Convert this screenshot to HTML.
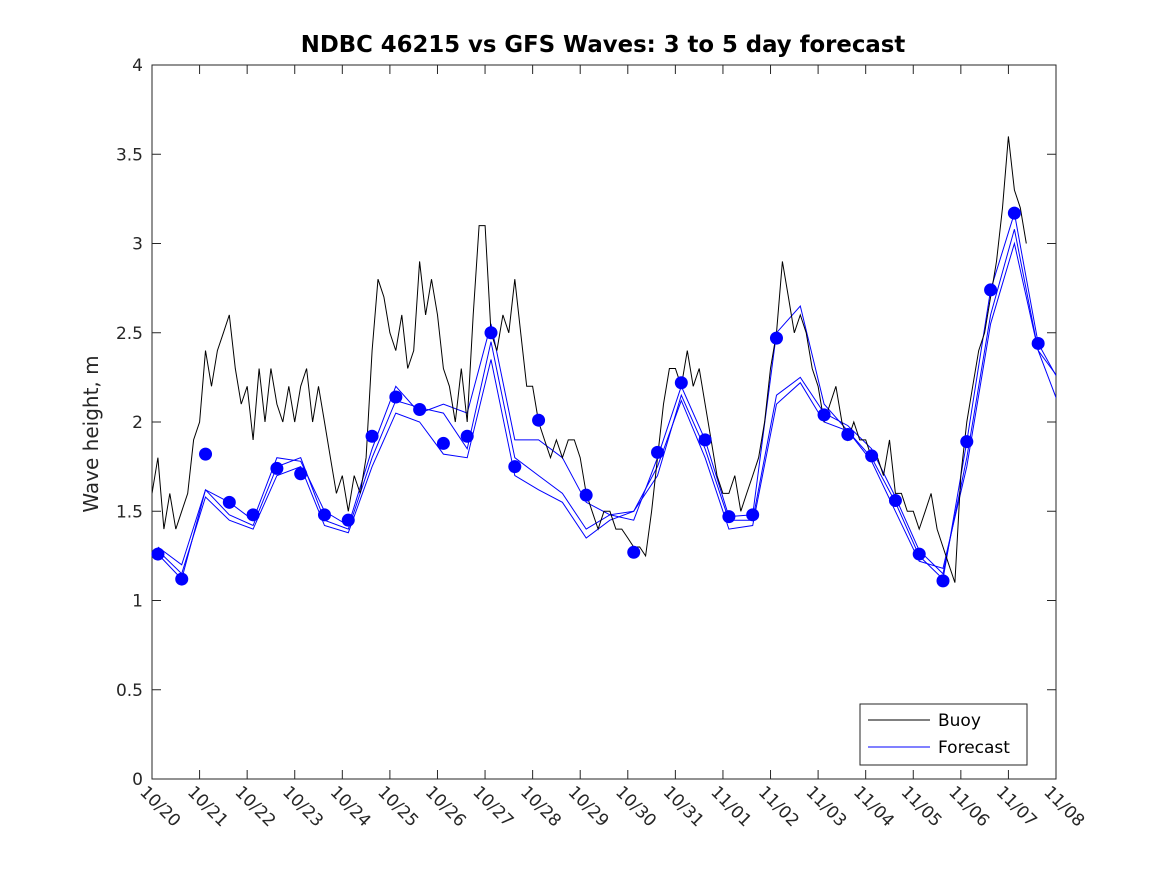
<!DOCTYPE html>
<html><head><meta charset="utf-8"><style>
html,body{margin:0;padding:0;background:#fff;}
svg{display:block;font-family:"DejaVu Sans","Liberation Sans",sans-serif;}
</style></head><body>
<svg id="chart" width="1167" height="875" viewBox="0 0 1167 875" xmlns="http://www.w3.org/2000/svg"><defs><clipPath id="pc"><rect x="152" y="65" width="904" height="714"/></clipPath></defs></svg>
<script>
const xTickLabels=["10/20","10/21","10/22","10/23","10/24","10/25","10/26","10/27","10/28","10/29","10/30","10/31","11/01","11/02","11/03","11/04","11/05","11/06","11/07","11/08"];
const yTickLabels=["0","0.5","1","1.5","2","2.5","3","3.5","4"];
// buoy at 1/8-day steps starting 10/20 00:00, one row per day
const buoy=[1.6,1.8,1.4,1.6,1.4,1.5,1.6,1.9,
2.0,2.4,2.2,2.4,2.5,2.6,2.3,2.1,
2.2,1.9,2.3,2.0,2.3,2.1,2.0,2.2,
2.0,2.2,2.3,2.0,2.2,2.0,1.8,1.6,
1.7,1.5,1.7,1.6,1.8,2.4,2.8,2.7,
2.5,2.4,2.6,2.3,2.4,2.9,2.6,2.8,
2.6,2.3,2.2,2.0,2.3,2.0,2.6,3.1,
3.1,2.5,2.4,2.6,2.5,2.8,2.5,2.2,
2.2,2.0,1.9,1.8,1.9,1.8,1.9,1.9,
1.8,1.6,1.5,1.4,1.5,1.5,1.4,1.4,
1.35,1.3,1.3,1.25,1.5,1.8,2.1,2.3,
2.3,2.2,2.4,2.2,2.3,2.1,1.9,1.7,
1.6,1.6,1.7,1.5,1.6,1.7,1.8,2.0,
2.3,2.5,2.9,2.7,2.5,2.6,2.5,2.3,
2.2,2.0,2.1,2.2,2.0,1.9,2.0,1.9,
1.9,1.8,1.8,1.7,1.9,1.6,1.6,1.5,
1.5,1.4,1.5,1.6,1.4,1.3,1.2,1.1,
1.7,2.0,2.2,2.4,2.5,2.7,2.9,3.2,
3.6,3.3,3.2,3.0];
// forecast dots every half day from day 0.125
const dots=[1.26,1.12,1.82,1.55,1.48,1.74,1.71,1.48,1.45,1.92,2.14,2.07,1.88,1.92,2.50,1.75,2.01,null,1.59,null,1.27,1.83,2.22,1.90,1.47,1.48,2.47,null,2.04,1.93,1.81,1.56,1.26,1.11,1.89,2.74,3.17,2.44];
const fcA=[1.26,1.12,1.62,1.55,1.45,1.80,1.78,1.50,1.42,1.85,2.20,2.05,2.10,2.05,2.55,1.90,1.90,1.80,1.55,1.48,1.45,1.80,2.20,1.90,1.47,1.48,2.50,2.65,2.10,1.95,1.80,1.55,1.25,1.12,1.89,2.74,3.17,2.44,2.20];
const fcB=[1.30,1.20,1.62,1.48,1.42,1.75,1.80,1.45,1.40,1.80,2.12,2.08,2.05,1.85,2.45,1.80,1.70,1.60,1.40,1.48,1.50,1.70,2.15,1.85,1.45,1.45,2.15,2.25,2.05,1.98,1.85,1.58,1.28,1.15,1.80,2.60,3.08,2.40,2.22];
const fcC=[1.28,1.15,1.58,1.45,1.40,1.70,1.75,1.42,1.38,1.75,2.05,2.00,1.82,1.80,2.35,1.70,1.62,1.55,1.35,1.45,1.50,1.75,2.12,1.80,1.40,1.42,2.10,2.22,2.00,1.95,1.78,1.50,1.22,1.18,1.75,2.55,3.00,2.40,2.05];
const X0=152,X1=1056,Y0=779,Y1=65,NS="http://www.w3.org/2000/svg";
const xs=d=>X0+(X1-X0)*d/19, ys=v=>Y0-(Y0-Y1)*v/4;
const svg=document.getElementById('chart');
function mk(t,a,p){const e=document.createElementNS(NS,t);for(const k in a)e.setAttribute(k,a[k]);(p||svg).appendChild(e);return e;}
let e=mk('rect',{x:X0,y:Y1,width:X1-X0,height:Y0-Y1,fill:'#fff',stroke:'#262626','stroke-width':1});

xTickLabels.forEach((l,i)=>{const x=xs(i);
mk('line',{x1:x,y1:Y0,x2:x,y2:Y0-9,stroke:'#262626'});mk('line',{x1:x,y1:Y1,x2:x,y2:Y1+9,stroke:'#262626'});
const t=mk('text',{x:0,y:0,'font-size':17,fill:'#262626',transform:`translate(${x-13},${Y0+14}) rotate(45)`});t.textContent=l;
});
yTickLabels.forEach((l,i)=>{const y=ys(i*0.5);
mk('line',{x1:X0,y1:y,x2:X0+9,y2:y,stroke:'#262626'});mk('line',{x1:X1,y1:y,x2:X1-9,y2:y,stroke:'#262626'});
const t=mk('text',{x:X0-9,y:y+6,'font-size':17,fill:'#262626','text-anchor':'end'});t.textContent=l;
});
const cg=mk('g',{'clip-path':'url(#pc)'});
function line(arr,step,start,color,name){const pts=[];arr.forEach((v,i)=>{if(v!=null)pts.push(xs(start+i*step).toFixed(1)+','+ys(v).toFixed(1));});
const p=mk('polyline',{points:pts.join(' '),fill:'none',stroke:color,'stroke-width':1},cg);}
line(fcA,0.5,0.125,'#0000ff','forecast-line-a');line(fcB,0.5,0.125,'#0000ff','forecast-line-b');line(fcC,0.5,0.125,'#0000ff','forecast-line-c');
line(buoy,0.125,0,'#000','buoy-line');
dots.forEach((v,i)=>{if(v==null)return;const c=mk('circle',{cx:xs(0.125+i*0.5),cy:ys(v),r:6.5,fill:'#0000ff'});
});
let t=mk('text',{x:603,y:52,'font-size':22.8,'font-weight':'bold','text-anchor':'middle',fill:'#000'});t.textContent='NDBC 46215 vs GFS Waves: 3 to 5 day forecast';

t=mk('text',{x:0,y:0,'font-size':20,'text-anchor':'middle',fill:'#262626',transform:'translate(98,434) rotate(-90)'});t.textContent='Wave height, m';

const g=mk('g',{});
mk('rect',{x:860,y:704,width:167,height:61,fill:'#fff',stroke:'#262626'},g);
mk('line',{x1:868,y1:720,x2:930,y2:720,stroke:'#000'},g);mk('line',{x1:868,y1:747,x2:930,y2:747,stroke:'#0000ff'},g);
t=mk('text',{x:938,y:726,'font-size':17,fill:'#000'},g);t.textContent='Buoy';
t=mk('text',{x:938,y:753,'font-size':17,fill:'#000'},g);t.textContent='Forecast';
</script>
</body></html>
